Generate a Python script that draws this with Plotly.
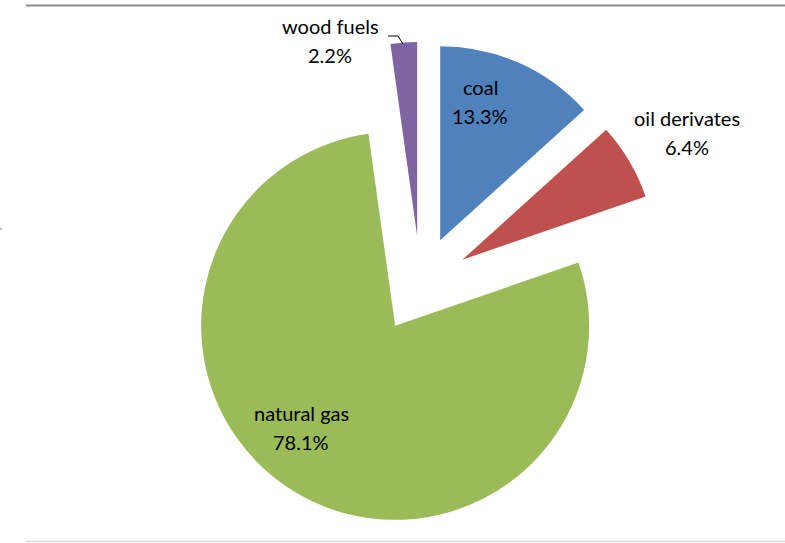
import plotly.graph_objects as go

# Energy mix shares (percent)
labels = ["coal", "oil derivates", "natural gas", "wood fuels"]
shares = [13.3, 6.4, 78.1, 2.2]
colors = ["#4F81BD", "#C0504D", "#9BBB59", "#8064A2"]

# label anchor points (pixels, centre of the two-line label)
label_pos = {
    "coal": (480, 102),
    "oil derivates": (687, 132),
    "natural gas": (301, 427),
    "wood fuels": (330, 40),
}

W, H = 785, 543


def px(x, y):
    """pixel position -> paper coordinates (no margins)"""
    return x / W, 1 - y / H


# pie box: 485 px square centred at (420.5, 284.5)
box = 485
cx, cy = 420.5, 284.5
dx0, dy1 = px(cx - box / 2, cy - box / 2)
dx1, dy0 = px(cx + box / 2, cy + box / 2)

fig = go.Figure(
    go.Pie(
        labels=labels,
        values=shares,
        sort=False,
        direction="clockwise",
        rotation=0,
        pull=[0.25] * len(labels),
        marker=dict(colors=colors, line=dict(width=0)),
        textinfo="none",
        automargin=False,
        hoverinfo="label+percent",
        showlegend=False,
        domain=dict(x=[dx0, dx1], y=[dy0, dy1]),
    )
)

font = dict(family="Lato", size=20, color="#000000")
for lab, val in zip(labels, shares):
    lx, ly = label_pos[lab]
    ax, ay = px(lx, ly - 14.5)
    fig.add_annotation(x=ax, y=ay, xref="paper", yref="paper", text=lab,
                       showarrow=False, font=font, xanchor="center", yanchor="middle")
    ax, ay = px(lx, ly + 14.5)
    fig.add_annotation(x=ax, y=ay, xref="paper", yref="paper", text=f"{val:.1f}%",
                       showarrow=False, font=font, xanchor="center", yanchor="middle")

# leader line from the wood fuels label to its slice
p0 = px(388, 36)
p1 = px(398, 36)
p2 = px(403, 44)
fig.add_shape(type="path", xref="paper", yref="paper",
              path=f"M {p0[0]} {p0[1]} L {p1[0]} {p1[1]} L {p2[0]} {p2[1]}",
              line=dict(color="#000000", width=1))

# frame lines around the chart area
x0, y_top = px(26, 5.5)
x1, _ = px(785, 5.5)
_, y_bot = px(26, 541.5)
fig.add_shape(type="line", xref="paper", yref="paper", x0=x0, x1=x1, y0=y_top, y1=y_top,
              line=dict(color="#8C8C8C", width=2))
fig.add_shape(type="line", xref="paper", yref="paper", x0=x0, x1=x1, y0=y_bot, y1=y_bot,
              line=dict(color="#DCDCDC", width=1.5))
tx, ty = px(0, 229)
fig.add_shape(type="line", xref="paper", yref="paper", x0=0, x1=px(2, 0)[0], y0=ty, y1=ty,
              line=dict(color="#A0A0A0", width=1.5))

fig.update_layout(
    width=W,
    height=H,
    margin=dict(l=0, r=0, t=0, b=0, autoexpand=False),
    paper_bgcolor="white",
    plot_bgcolor="white",
)

fig.write_html("out.html")
